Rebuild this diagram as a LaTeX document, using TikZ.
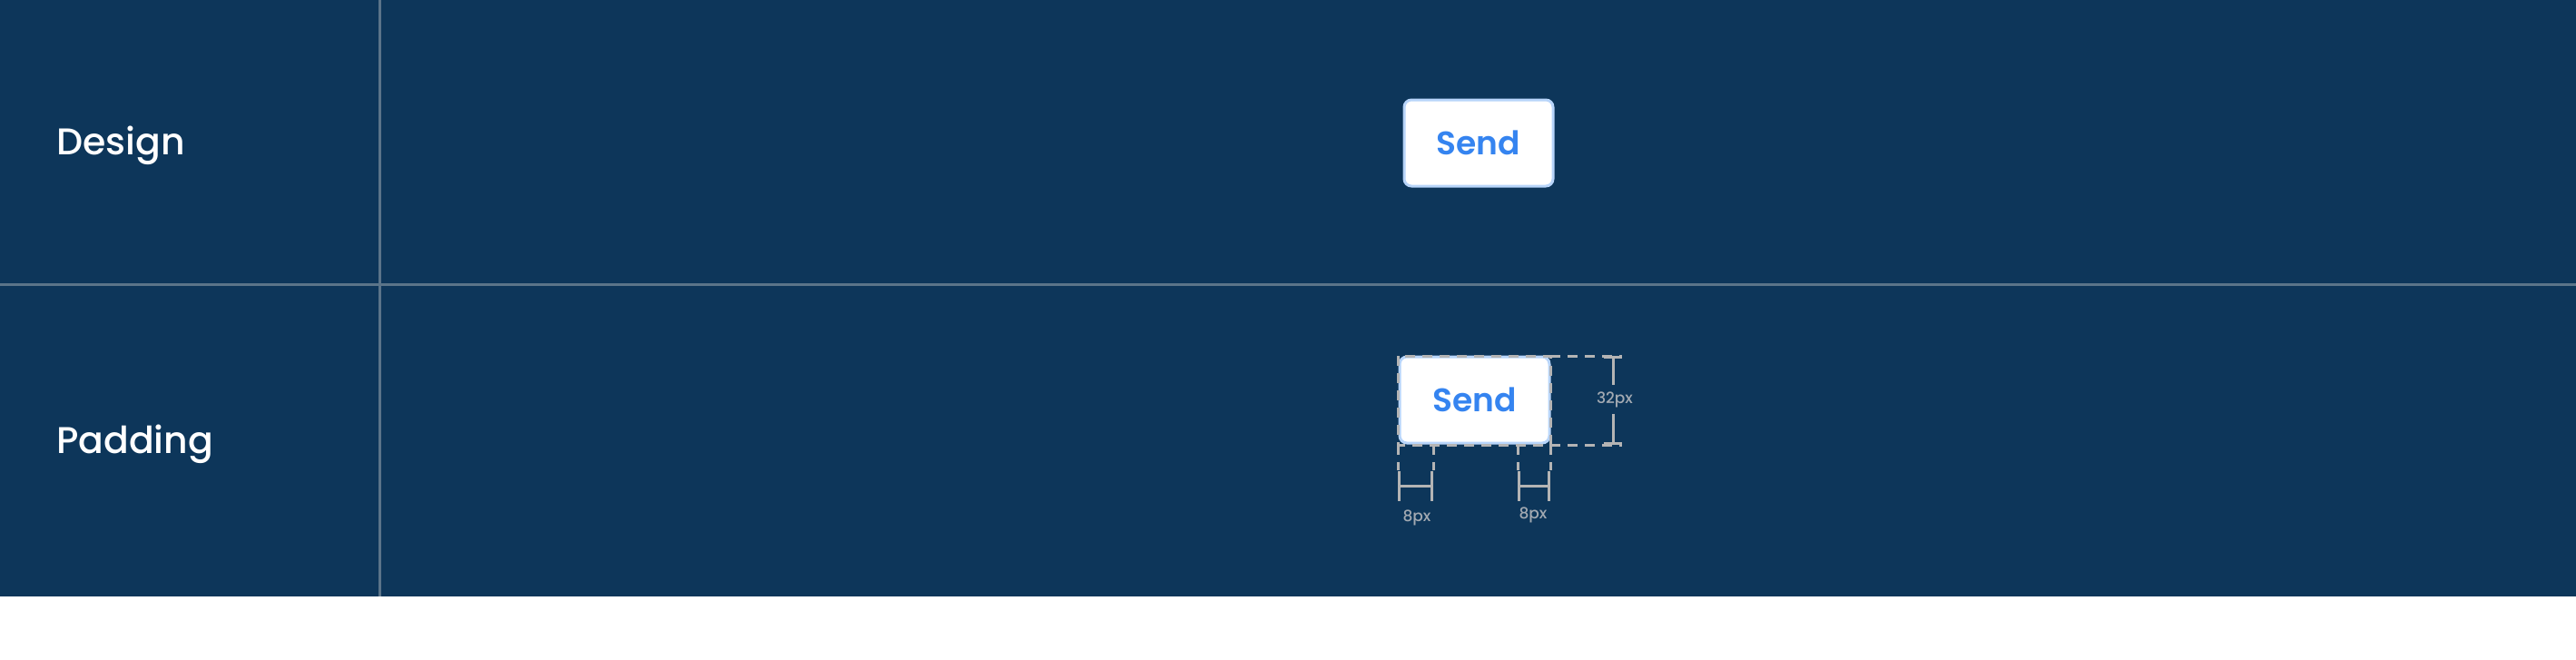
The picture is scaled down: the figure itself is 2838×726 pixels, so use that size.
\documentclass[tikz,border=0pt]{standalone}
\usepackage{fontspec}
\setmainfont{Poppins}[UprightFont=* Medium, BoldFont=* SemiBold]
\usepackage{xcolor}
\usetikzlibrary{arrows.meta}
\definecolor{NavyBG}{HTML}{0D365A}
\definecolor{RuleGrey}{HTML}{5B7489}
\definecolor{BorderBlue}{HTML}{B8D5FA}
\definecolor{SendBlue}{HTML}{3584F0}
\definecolor{GuideGrey}{HTML}{B4B4B4}
\definecolor{DimGrey}{HTML}{A3AAB2}
\newcommand\labdesign{Design}
\newcommand\labpadding{Padding}
\newcommand\labsend{Send}
\tikzstyle{rowlabel} = [anchor=base west, inner sep=0pt, text=white, font=\fontsize{41}{41}\selectfont]
\tikzstyle{sendbtn} = [rectangle, rounded corners=8pt, minimum width=164pt, minimum height=95pt, fill=white, draw=BorderBlue, line width=3pt, text=SendBlue, font=\fontsize{36}{36}\bfseries\selectfont]
\tikzstyle{dimlabel} = [inner sep=7pt, text=DimGrey, font=\fontsize{17}{17}\selectfont]
\tikzstyle{guide} = [GuideGrey, line width=3pt, dash pattern=on 11pt off 8pt]
\tikzstyle{dimline} = [GuideGrey, line width=3pt]
\tikzset{x=1pt, y=-1pt}

\begin{document}
\begin{tikzpicture}
\useasboundingbox (0, 0) rectangle (2838, 726);
\fill[white] (0, 0) rectangle (2838, 726);
\fill[NavyBG] (0, 0) rectangle (2838, 657);
\draw[RuleGrey, line width=3pt] (418, 0) -- (418, 657);
\draw[RuleGrey, line width=3pt] (0, 313) -- (2838, 313);
% row labels
\node[rowlabel] (design) at (62, 170) {\labdesign};
\node[rowlabel] (padding) at (62, 499) {\labpadding};
% buttons
\node[sendbtn] (btna) at (1629, 157.5) {\labsend};
\node[sendbtn, minimum width=165pt] (btnb) at (1624.5, 440.5) {\labsend};
% padding guides
\coordinate (nw) at (1540, 392);
\coordinate (se) at (1708, 490);
\coordinate (sw) at (1540, 490);
\coordinate (ne) at (1708, 392);
\coordinate (pl) at (1579, 490);
\coordinate (pr) at (1672, 490);
\coordinate (swd) at (1540, 518);
\coordinate (sed) at (1708, 518);
\coordinate (pld) at (1579, 518);
\coordinate (prd) at (1672, 518);
\coordinate (net) at (1787, 392);
\coordinate (set) at (1787, 490);
\draw[guide] (nw) rectangle (se);
\draw[guide] (sw) -- (swd);
\draw[guide] (pl) -- (pld);
\draw[guide] (pr) -- (prd);
\draw[guide] (se) -- (sed);
\draw[guide] (ne) -- (net);
\draw[guide] (se) -- (set);
% dimensions
\coordinate (ha) at (1777, 392);
\coordinate (hb) at (1777, 490);
\node[dimlabel] (h32) at (1779, 440) {32px};
\draw[dimline, {Bar[width=20pt]}-] (ha) -- (h32.north -| ha);
\draw[dimline, -{Bar[width=20pt]}] (h32.south -| hb) -- (hb);
\coordinate (la) at (1540, 535);
\coordinate (lb) at (1579, 535);
\coordinate (ra) at (1672, 535);
\coordinate (rb) at (1708, 535);
\draw[dimline, {Bar[width=33pt]}-{Bar[width=33pt]}] (la) -- (lb);
\draw[dimline, {Bar[width=33pt]}-{Bar[width=33pt]}] (ra) -- (rb);
\node[dimlabel] (wl) at (1561, 570) {8px};
\node[dimlabel] (wr) at (1689, 567) {8px};
\end{tikzpicture}
\end{document}
